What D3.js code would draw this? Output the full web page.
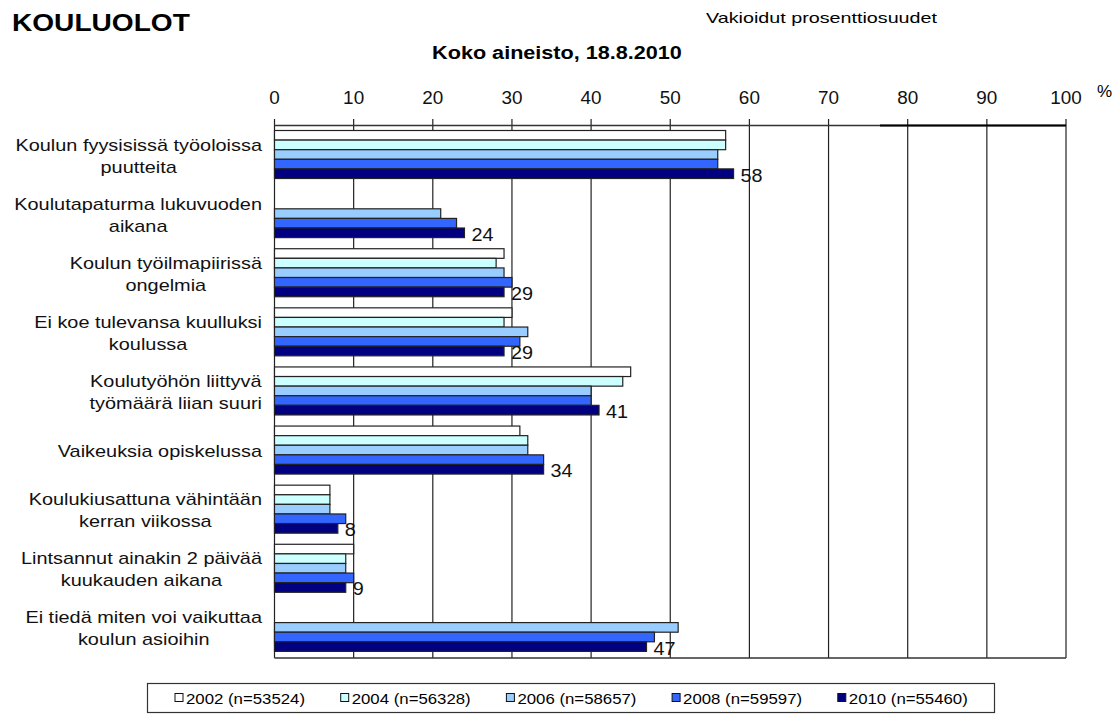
<!DOCTYPE html>
<html>
<head>
<meta charset="utf-8">
<script src="https://cdn.jsdelivr.net/npm/d3@7"></script>
<style>
  html, body { margin: 0; padding: 0; background: #fff; }
  svg { display: block; font-family: "Liberation Sans", Arial, sans-serif; }
</style>
</head>
<body>
<svg id="chart" width="1117" height="718"></svg>
<script>
// Categories (label lines)
const categories = [
    ['Koulun fyysisissä työoloissa', 'puutteita'],
    ['Koulutapaturma lukuvuoden', 'aikana'],
    ['Koulun työilmapiirissä', 'ongelmia'],
    ['Ei koe tulevansa kuulluksi', 'koulussa'],
    ['Koulutyöhön liittyvä', 'työmäärä liian suuri'],
    ['Vaikeuksia opiskelussa'],
    ['Koulukiusattuna vähintään', 'kerran viikossa'],
    ['Lintsannut ainakin 2 päivää', 'kuukauden aikana'],
    ['Ei tiedä miten voi vaikuttaa', 'koulun asioihin']
];

const years = ['2002', '2004', '2006', '2008', '2010'];
const legendLabels = ['2002 (n=53524)', '2004 (n=56328)', '2006 (n=58657)', '2008 (n=59597)', '2010 (n=55460)'];
const colors = ['#ffffff', '#ccffff', '#99ccff', '#3366ff', '#000080'];

// Series values, one array per year (null = not asked)
const v2002 = [57, null, 29, 30, 45, 31, 7, 10, null];
const v2004 = [57, null, 28, 29, 44, 32, 7, 9, null];
const v2006 = [56, 21, 29, 32, 40, 32, 7, 9, 51];
const v2008 = [56, 23, 30, 31, 40, 34, 9, 10, 48];
const v2010 = [58, 24, 29, 29, 41, 34, 8, 9, 47];
const series = [v2002, v2004, v2006, v2008, v2010];

const ticks = [0, 10, 20, 30, 40, 50, 60, 70, 80, 90, 100];

const svg = d3.select('#chart');

// widen text horizontally (the source rendering is slightly stretched)
function stretch(sel, k) {
    sel.each(function () {
        const w = this.getComputedTextLength();
        d3.select(this).attr('textLength', w * k).attr('lengthAdjust', 'spacingAndGlyphs');
    });
}

const x = d3.scaleLinear().domain([0, 100]).range([274.5, 1066]);
const y = d3.scaleBand().domain(d3.range(categories.length)).range([126, 658]);
const yInner = d3.scaleBand().domain(years).range([4.5, 52.5]);

// titles
svg.append('text').attr('x', 12).attr('y', 31)
    .attr('font-size', 24).attr('font-weight', 'bold').text('KOULUOLOT')
    .call(stretch, 1.17);
svg.append('text').attr('x', 706).attr('y', 23)
    .attr('font-size', 15).attr('textLength', 231).attr('lengthAdjust', 'spacingAndGlyphs')
    .text('Vakioidut prosenttiosuudet');
svg.append('text').attr('x', 557).attr('y', 59).attr('text-anchor', 'middle')
    .attr('font-size', 18).attr('font-weight', 'bold').text('Koko aineisto, 18.8.2010')
    .call(stretch, 1.2);

// grid lines
const grid = svg.append('g');
grid.selectAll('line').data(ticks).join('line')
    .attr('x1', d => x(d)).attr('x2', d => x(d))
    .attr('y1', 119).attr('y2', 658)
    .attr('stroke', '#222').attr('stroke-width', 1.2);

// top axis labels
svg.append('g').selectAll('text').data(ticks).join('text')
    .attr('x', d => x(d)).attr('y', 104)
    .attr('text-anchor', 'middle').attr('font-size', 17.5).attr('fill', '#111')
    .text(d => d)
    .call(stretch, 1.08);
svg.append('text').attr('x', 1097).attr('y', 97).attr('font-size', 17).text('%');

// bars
const groups = svg.append('g').selectAll('g').data(categories).join('g')
    .attr('transform', (d, i) => `translate(0,${y(i)})`);

groups.each(function (c, i) {
    const g = d3.select(this);
    const rows = years.map((yr, j) => ({ yr, j, v: series[j][i] })).filter(r => r.v != null);
    g.selectAll('rect').data(rows).join('rect')
        .attr('x', x(0))
        .attr('y', r => yInner(r.yr))
        .attr('width', r => x(r.v) - x(0))
        .attr('height', yInner.bandwidth())
        .attr('fill', r => colors[r.j])
        .attr('stroke', '#222').attr('stroke-width', 1.2);
    const last = v2010[i];
    g.append('text')
        .attr('x', x(last) + 7)
        .attr('y', yInner('2010') + yInner.bandwidth() / 2 + 8)
        .attr('font-size', 18).attr('fill', '#111')
        .text(last)
        .call(stretch, 1.1);
});

// axis frame lines
svg.append('line').attr('x1', x(0)).attr('x2', x(100)).attr('y1', 125.5).attr('y2', 125.5)
    .attr('stroke', '#333').attr('stroke-width', 1.5);
svg.append('line').attr('x1', x(76.5)).attr('x2', x(100)).attr('y1', 125.5).attr('y2', 125.5)
    .attr('stroke', '#000').attr('stroke-width', 2.2);
svg.append('line').attr('x1', x(0)).attr('x2', x(100)).attr('y1', 658).attr('y2', 658)
    .attr('stroke', '#333').attr('stroke-width', 1.5);

// category labels: lines centred within a right-aligned block
const labelStretch = 1.17;
const labels = svg.append('g').attr('font-size', 17).attr('fill', '#111');
categories.forEach((lines, i) => {
    const cy = y(i) + y.bandwidth() / 2;
    const lh = 22;
    const texts = lines.map((ln, k) => labels.append('text')
        .attr('y', cy + (k - (lines.length - 1) / 2) * lh + 6)
        .attr('text-anchor', 'middle')
        .text(ln));
    const w = d3.max(texts, t => t.node().getComputedTextLength()) * labelStretch;
    texts.forEach(t => t.attr('x', 262 - w / 2).call(stretch, labelStretch));
});

// legend
const leg = svg.append('g');
leg.append('rect').attr('x', 147.5).attr('y', 683.5).attr('width', 847).attr('height', 29)
    .attr('fill', '#fff').attr('stroke', '#333').attr('stroke-width', 1.2);
const items = leg.selectAll('g.item').data(legendLabels).join('g')
    .attr('class', 'item')
    .attr('transform', (d, i) => `translate(${175 + i * 165.7},698)`);
items.append('rect').attr('x', 0).attr('y', -4.5).attr('width', 8).attr('height', 8)
    .attr('fill', (d, i) => colors[i]).attr('stroke', '#111').attr('stroke-width', 1);
items.append('text').attr('x', 11).attr('y', 5.5).attr('font-size', 15)
    .attr('textLength', 119).attr('lengthAdjust', 'spacingAndGlyphs')
    .text(d => d);
</script>
</body>
</html>
